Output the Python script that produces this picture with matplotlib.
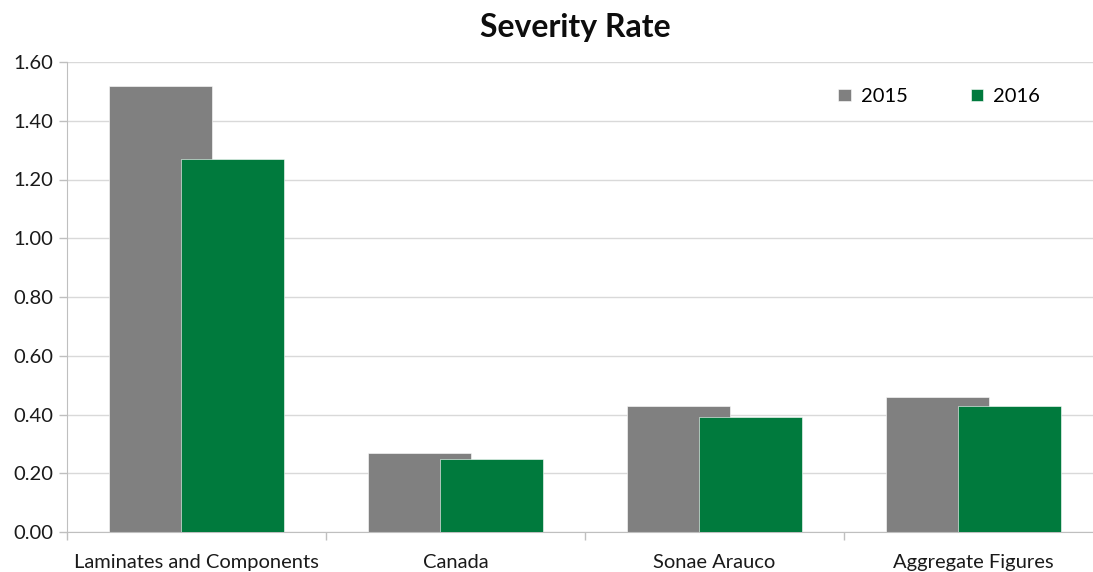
import matplotlib
matplotlib.use("Agg")
import matplotlib.pyplot as plt
import numpy as np

categories = ["Laminates and Components", "Canada", "Sonae Arauco", "Aggregate Figures"]
series_names = ["2015", "2016"]
values_2015 = [1.52, 0.27, 0.43, 0.46]
values_2016 = [1.27, 0.25, 0.39, 0.43]
y_ticks = [0.0, 0.2, 0.4, 0.6, 0.8, 1.0, 1.2, 1.4, 1.6]

plt.rcParams['font.family'] = ['Lato', 'DejaVu Sans']

fig = plt.figure(figsize=(10.93, 5.72), dpi=100)
W, H = 1093, 572
left_px, right_px, top_px, bot_px = 67, 1103, 62, 532
ax = fig.add_axes([left_px / W, 1 - bot_px / H, (right_px - left_px) / W, (bot_px - top_px) / H])

x = np.arange(len(categories))
width = 0.40
off = 0.139
ax.bar(x - off, values_2015, width, color="#808080", edgecolor="white", linewidth=0.4, label=series_names[0], zorder=2)
ax.bar(x + off, values_2016, width, color="#007A3D", edgecolor="white", linewidth=0.4, label=series_names[1], zorder=3)

fs = 14.5
ax.set_xlim(-0.5, len(categories) - 0.5)
ax.set_ylim(0, 1.6)
ax.set_yticks(y_ticks)
ax.set_yticklabels([f"{v:.2f}" for v in y_ticks], fontsize=fs, color="#1a1a1a")
ax.set_xticks(x)
ax.set_xticklabels(categories, fontsize=fs, color="#1a1a1a")
ax.tick_params(axis='x', length=0, pad=16)
ax.set_xticks(np.arange(-0.5, len(categories) + 0.5, 1), minor=True)
ax.tick_params(axis='x', which='minor', length=6, color="#bfbfbf", width=1)
ax.tick_params(axis='y', length=6, color="#bfbfbf", width=1, pad=4)

ax.grid(axis='y', color="#d9d9d9", linewidth=1, zorder=0)
ax.set_axisbelow(True)
for s in ['top', 'right']:
    ax.spines[s].set_visible(False)
ax.spines['left'].set_color("#bfbfbf")
ax.spines['bottom'].set_color("#bfbfbf")

fig.text(575 / W, 1 - 27 / H, "Severity Rate", ha='center', va='center', fontsize=23, fontweight='bold', color="#0d0d0d")

leg = ax.legend(loc='upper right', bbox_to_anchor=((1048 - left_px) / (right_px - left_px), 1 - (80 - top_px) / (bot_px - top_px)),
                ncol=2, frameon=False, fontsize=fs, handlelength=0.6, handleheight=0.6,
                columnspacing=3.15, handletextpad=0.5, borderaxespad=0)

fig.savefig("out.png", dpi=100)
